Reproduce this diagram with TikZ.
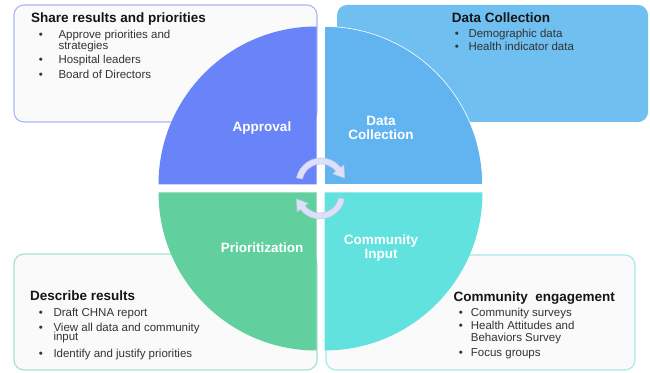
\documentclass[tikz,border=0pt]{standalone}
\usepackage{fontspec}
\setmainfont{Liberation Sans}
\usetikzlibrary{calc}
\definecolor{qapp}{HTML}{6983F9}
\definecolor{qdat}{HTML}{62B4F0}
\definecolor{qpri}{HTML}{62D09E}
\definecolor{qcom}{HTML}{62E2DF}
\definecolor{trbox}{HTML}{6FBFF0}
\definecolor{bxfill}{HTML}{FAFAFA}
\definecolor{tlline}{HTML}{A9B6F8}
\definecolor{blline}{HTML}{A6E2C6}
\definecolor{brline}{HTML}{A2EAE8}
\definecolor{arrfill}{HTML}{DDE0F8}
\definecolor{arrline}{HTML}{C3C8EE}
\definecolor{bodytext}{HTML}{333333}
\definecolor{titletext}{HTML}{151515}
\tikzset{
  infobox/.style={rounded corners=10pt, line width=1.1pt, fill=bxfill},
  boxtitle/.style={anchor=base west, inner sep=0pt, text=titletext, font=\fontsize{13.5}{15}\selectfont\bfseries},
  boxitem/.style={anchor=base west, inner sep=0pt, text=bodytext, font=\fontsize{11.5}{13}\selectfont},
  bulletmark/.style={anchor=base west, inner sep=0pt, text=bodytext, font=\fontsize{11.5}{13}\selectfont},
  quadlabel/.style={inner sep=0pt, text=white, align=center, font=\fontsize{13.5}{14}\selectfont\bfseries},
  cyclearrow/.style={fill=arrfill, draw=arrline, line width=0.6pt, line join=round}
}
\begin{document}
\begin{tikzpicture}[x=1pt,y=1pt]
\useasboundingbox (0,0) rectangle (650,372);
% boxes
\draw[infobox, draw=tlline] (14,250) rectangle (317,367);
\fill[trbox, rounded corners=10pt] (337,250) rectangle (648,367);
\draw[infobox, draw=blline] (14,2) rectangle (317,118);
\draw[infobox, draw=brline] (326,2) rectangle (635,117);
% quadrants
\coordinate (capp) at (316.5,187.5);
\coordinate (cdat) at (324.5,187.5);
\coordinate (cpri) at (316.5,179.5);
\coordinate (ccom) at (324.5,179.5);
\fill[qapp] (capp) -- ++(-158,0) arc[start angle=180, end angle=90, radius=158] -- cycle;
\filldraw[fill=qdat, draw=white, line width=0.6pt] (cdat) -- ++(0,158) arc[start angle=90, end angle=0, radius=158] -- cycle;
\fill[qpri] (cpri) -- ++(0,-158) arc[start angle=270, end angle=180, radius=158] -- cycle;
\fill[qcom] (ccom) -- ++(158,0) arc[start angle=0, end angle=-90, radius=158] -- cycle;
% cycle arrows
\coordinate (ta) at (321,189);
\coordinate (tb) at (320,178);
\draw[cyclearrow] ($(ta)+(168:25)$) arc[start angle=168, end angle=38, radius=25]
  -- ($(ta)+(38:29)$) -- ($(ta)+(12:24)$) -- ($(ta)+(38:15)$) -- ($(ta)+(38:19)$)
  arc[start angle=38, end angle=168, radius=19] -- cycle;
\draw[cyclearrow] ($(tb)+(-12:25)$) arc[start angle=-12, end angle=-142, radius=25]
  -- ($(tb)+(-142:29)$) -- ($(tb)+(-168:24)$) -- ($(tb)+(-142:15)$) -- ($(tb)+(-142:19)$)
  arc[start angle=-142, end angle=-12, radius=19] -- cycle;
% quadrant labels
\node[quadlabel] (lapp) at (262,244) {Approval};
\node[quadlabel] (ldat) at (381,244) {Data\\Collection};
\node[quadlabel] (lpri) at (262,124) {Prioritization};
\node[quadlabel] (lcom) at (381,124) {Community\\Input};
% top-left text
\node[boxtitle] (t1) at (31,349.7) {Share results and priorities};
\node[bulletmark] (t1b1) at (38.7,333.7) {•};
\node[boxitem] (t1i1) at (58.3,333.7) {Approve priorities and};
\node[boxitem] (t1i1b) at (58.3,322) {strategies};
\node[bulletmark] (t1b2) at (38.7,308.7) {•};
\node[boxitem] (t1i2) at (58.3,308.7) {Hospital leaders};
\node[bulletmark] (t1b3) at (38.7,293.7) {•};
\node[boxitem] (t1i3) at (58.3,293.7) {Board of Directors};
% top-right text
\node[boxtitle] (t2) at (451.7,349.7) {Data Collection};
\node[bulletmark] (t2b1) at (454.7,334.3) {•};
\node[boxitem] (t2i1) at (468.3,334.3) {Demographic data};
\node[bulletmark] (t2b2) at (454.7,321) {•};
\node[boxitem] (t2i2) at (468.3,321) {Health indicator data};
% bottom-left text
\node[boxtitle] (t3) at (30,71) {Describe results};
\node[bulletmark] (t3b1) at (38.7,55.3) {•};
\node[boxitem] (t3i1) at (53.3,55.3) {Draft CHNA report};
\node[bulletmark] (t3b2) at (38.7,41) {•};
\node[boxitem] (t3i2) at (53.3,41) {View all data and community};
\node[boxitem] (t3i2b) at (53.3,31) {input};
\node[bulletmark] (t3b3) at (38.7,14.3) {•};
\node[boxitem] (t3i3) at (53.3,14.3) {Identify and justify priorities};
% bottom-right text
\node[boxtitle] (t4) at (453.3,70.3) {Community\ \ engagement};
\node[bulletmark] (t4b1) at (458.7,55.3) {•};
\node[boxitem] (t4i1) at (470.7,55.3) {Community surveys};
\node[bulletmark] (t4b2) at (458.7,42) {•};
\node[boxitem] (t4i2) at (470.7,42) {Health Attitudes and};
\node[boxitem] (t4i2b) at (470.7,30.3) {Behaviors Survey};
\node[bulletmark] (t4b3) at (458.7,15.3) {•};
\node[boxitem] (t4i3) at (470.7,15.3) {Focus groups};
\end{tikzpicture}
\end{document}
